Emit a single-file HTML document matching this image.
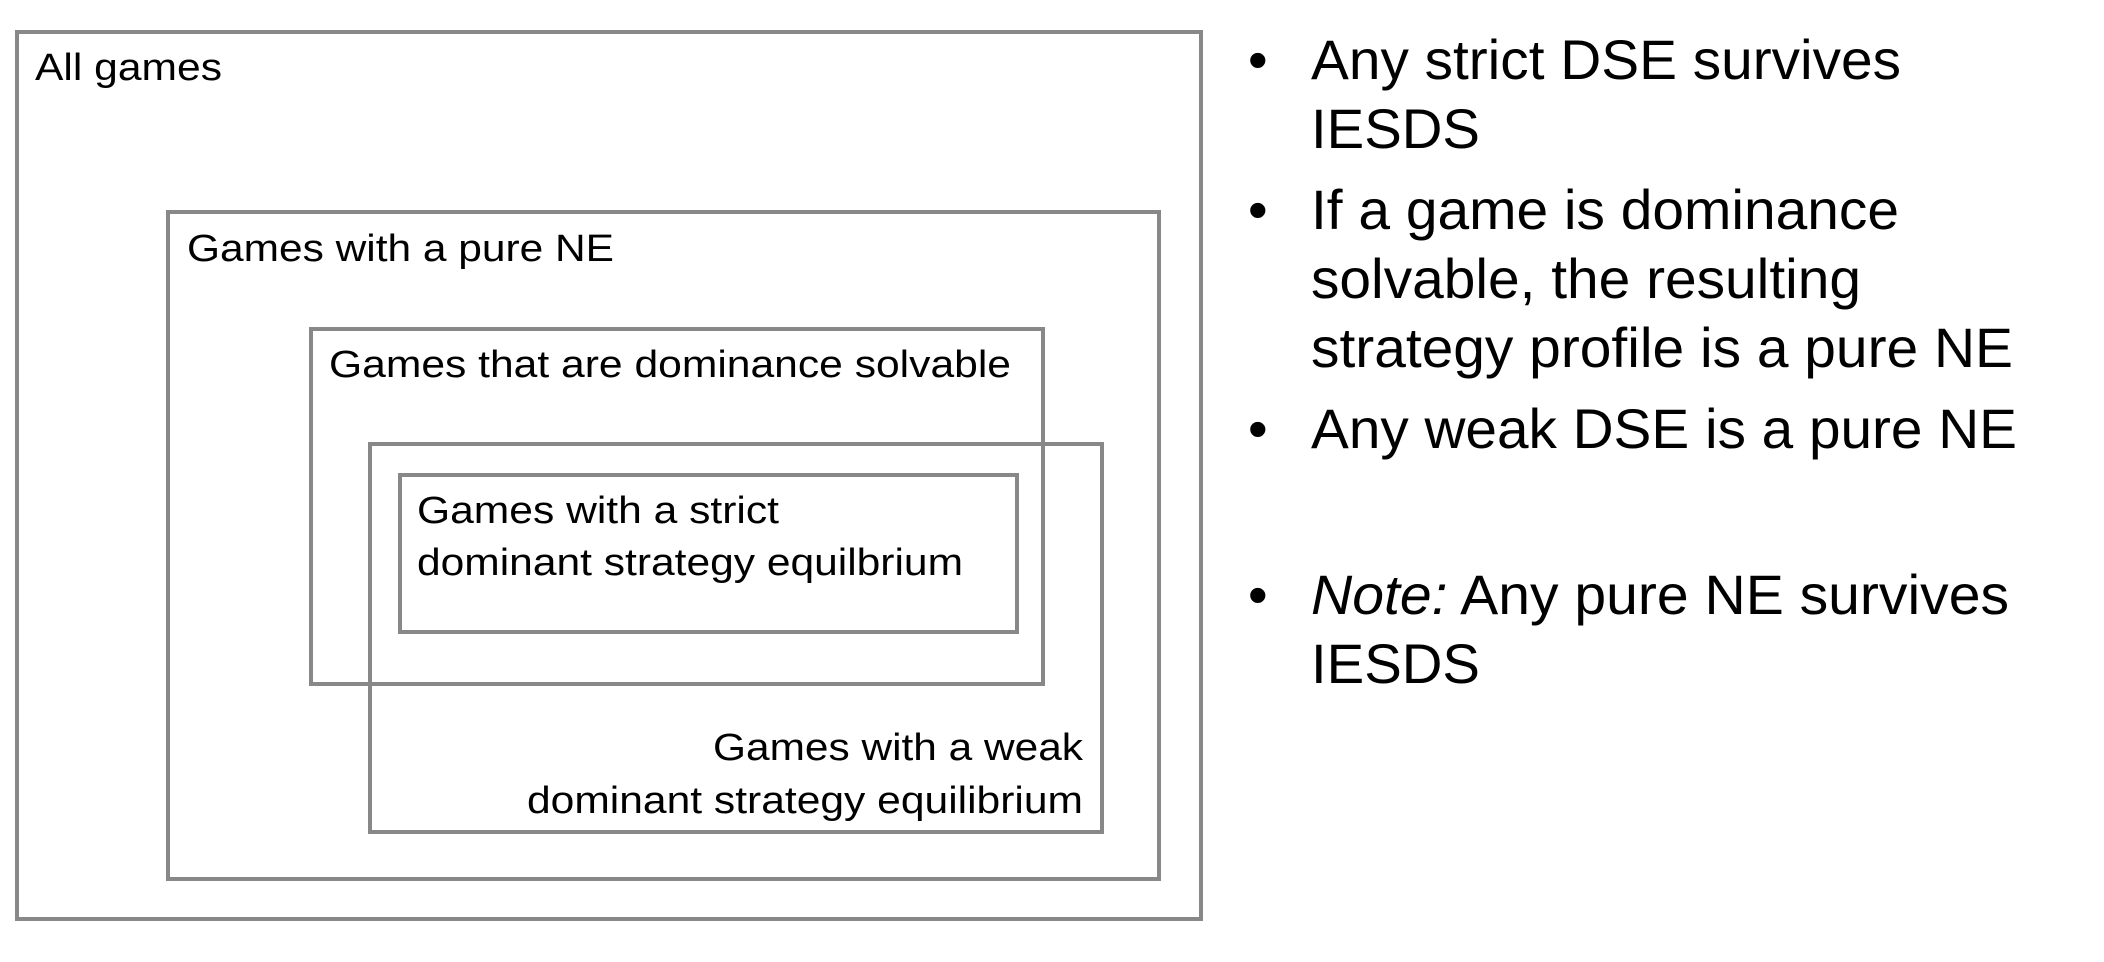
<!DOCTYPE html>
<html><head><meta charset="utf-8"><style>html,body{margin:0;padding:0;background:#fff}svg{display:block}</style></head><body>
<svg width="2104" height="962" viewBox="0 0 2104 962" xmlns="http://www.w3.org/2000/svg" font-family="Liberation Sans, Arial, sans-serif">
<g fill="none" stroke="#888" stroke-width="4">
<rect x="17" y="32" width="1184" height="887"/>
<rect x="168" y="212" width="991" height="667"/>
<rect x="311" y="329" width="732" height="355"/>
<rect x="370" y="444" width="732" height="388"/>
<rect x="400" y="475" width="617" height="157"/>
</g>
<g fill="#000" font-size="38">
<text x="35" y="80" textLength="187" lengthAdjust="spacingAndGlyphs">All games</text>
<text x="187" y="261" textLength="427" lengthAdjust="spacingAndGlyphs">Games with a pure NE</text>
<text x="329" y="377" textLength="682" lengthAdjust="spacingAndGlyphs">Games that are dominance solvable</text>
<text x="417" y="523" textLength="362" lengthAdjust="spacingAndGlyphs">Games with a strict</text>
<text x="417" y="575" textLength="546" lengthAdjust="spacingAndGlyphs">dominant strategy equilbrium</text>
<text x="713" y="760" textLength="370" lengthAdjust="spacingAndGlyphs">Games with a weak</text>
<text x="527" y="813" textLength="556" lengthAdjust="spacingAndGlyphs">dominant strategy equilibrium</text>
</g>
<g fill="#000" font-size="56">
<text x="1248" y="79">•</text>
<text x="1311" y="79" textLength="590" lengthAdjust="spacingAndGlyphs">Any strict DSE survives</text>
<text x="1311" y="148" textLength="169" lengthAdjust="spacingAndGlyphs">IESDS</text>
<text x="1248" y="229">•</text>
<text x="1311" y="229" textLength="588" lengthAdjust="spacingAndGlyphs">If a game is dominance</text>
<text x="1311" y="298" textLength="550" lengthAdjust="spacingAndGlyphs">solvable, the resulting</text>
<text x="1311" y="367" textLength="702" lengthAdjust="spacingAndGlyphs">strategy profile is a pure NE</text>
<text x="1248" y="448">•</text>
<text x="1311" y="448" textLength="706" lengthAdjust="spacingAndGlyphs">Any weak DSE is a pure NE</text>
<text x="1248" y="614">•</text>
<text x="1311" y="614" textLength="698" lengthAdjust="spacingAndGlyphs"><tspan font-style="italic">Note:</tspan> Any pure NE survives</text>
<text x="1311" y="683" textLength="169" lengthAdjust="spacingAndGlyphs">IESDS</text>
</g>
</svg>
</body></html>
